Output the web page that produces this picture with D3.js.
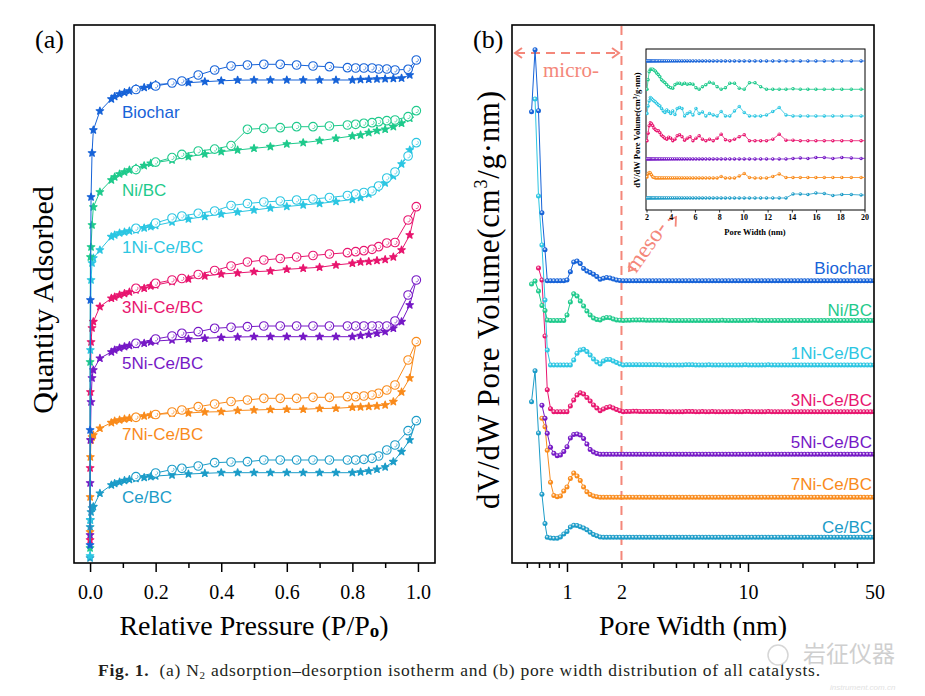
<!DOCTYPE html>
<html><head><meta charset="utf-8">
<script src="https://cdn.jsdelivr.net/npm/d3@7"></script>
<style>body{margin:0;background:#fff;} svg{display:block;}</style>
</head><body>
<svg id="c" width="925" height="696"></svg>
<script>
// ---------------- DATA ----------------
const seriesNames = ["Biochar","Ni/BC","1Ni-Ce/BC","3Ni-Ce/BC","5Ni-Ce/BC","7Ni-Ce/BC","Ce/BC"];
const seriesColors = ["#1763d8","#1fca8c","#2cc6e2","#e8166f","#7619c6","#f98b1c","#1c9cc8"];

// (a) N2 isotherms: relative pressure points
const adsP = [0,0.0002,0.001,0.003,0.006,0.01,0.03,0.065,0.075,0.09,0.105,0.12,0.14,0.165,0.185,0.2,0.25,0.3,0.35,0.4,0.45,0.5,0.55,0.6,0.65,0.7,0.75,0.8,0.825,0.85,0.875,0.9,0.925,0.95,0.975];
const desP = [0.995,0.97,0.93,0.905,0.88,0.86,0.835,0.81,0.785,0.73,0.68,0.63,0.58,0.53,0.48,0.43,0.38,0.33,0.28,0.25,0.2,0.14];

// quantity adsorbed (arbitrary stacked units)
const adsBiochar = [18,133,263,366,410,433,452,464,466.5,469,470.5,472,474.5,475.5,477,478.5,479.5,480.3,481.3,482.2,482.8,483,483,483,483,483,483,483,483.4,483.7,484,484.2,484.5,484.8,488];
const adsNi = [15,201,306,316,338,356,371,383,386,389,391,393,395,397.3,399.7,400.5,403,406.3,409,411.3,413,414.7,416.3,419,420.3,422.3,424.7,427,428,430.3,432.3,433.7,436.3,439.7,444.7];
const ads1Ni = [7,43,213,283,300,305,313,326.3,328,330,331,332,333,335,336.3,337.5,341,344,346.5,349,351,353,355,356.5,358,359.5,361.5,363.5,365.5,369,375,380,387,399,413];
const ads3Ni = [23,95,171,221,235,241.3,256.3,264.7,266,268,269.5,271,273,274.7,277,278,281.3,284,287,289,290,291.3,292,293.7,294.7,295.7,298,299.7,301,301.5,302.5,303.5,306,313,328];
const ads5Ni = [28,80,123,161,185,193,204.7,211,213,215,216.3,217.5,218.5,219.7,221,222,223,224,224.7,225.5,226,226.3,226.3,226.3,226.3,226.3,226.3,226.3,227.5,228.5,229.7,231.3,234.7,241.3,258];
const ads7Ni = [31,66,106,123,126,128,134.7,140.3,142,143,144,144.7,146,147,148,148.5,149.7,150,151,151.3,152.5,153,153.5,153.7,153.7,154.5,154.7,155.7,156,156.5,157,158,161.3,171,185];
const adsCe = [5,36,43,51,55,56.3,69.7,78,79.5,81,82.5,83.5,84.5,85.5,86.3,87,88,89,89.7,90.3,90.3,90.3,90.3,90.3,90.3,90.3,90.3,90.3,91,92,93.7,96,101.3,111.3,123];

const desBiochar = [503,493.7,493,494,494,495,495,495,495.3,496.3,497,498,498.7,498.7,498,497,493,488,482,480,477,473.5];
const desNi = [452.3,446.3,443,442.3,441.3,440.3,439.7,438.7,438,437,436.3,436.3,435.3,434.7,433.7,417.4,413.9,412,408.6,405.4,400.9,393.4];
const des1Ni = [420.3,407,391,385,377,372,370.5,369,367.5,365.5,364,363,362,361,359.5,357.5,352,349.7,347,345,340,334.7];
const des3Ni = [356.3,343,320.5,320,316.3,313.7,312.3,311.3,310.3,309,307.5,306,304.5,303,301,297,292.5,288.5,284.5,283,279.7,274.7];
const des5Ni = [283,268,242,237,237,237,237,237,237,237,237,237,237,237,236.3,235.7,234.7,231.3,229.7,227,224,219.7];
const des7Ni = [221.3,203,178,173,169.7,168,167,166.3,166.3,165.7,165.7,164.7,164.7,164.7,163,161.5,159,156.3,153,151,148.5,145.7];
const desCe = [142.3,132.3,118,113,107,104.7,103.7,103,103,103,103,103,103,103,101.3,101,100.3,97,94.7,93.5,90,86.3];

// (b) pore width distribution: pore widths (nm)
const poreWidths = [0.637,0.666,0.696,0.727,0.756,
 0.778,0.811,0.846,0.883,0.920,0.960,1.000,1.044,1.089,1.136,
 1.184,1.235,1.288,1.343,1.401,1.461,1.524,1.589,1.657,1.728,
 1.802,1.879,1.959,2.044,2.131,2.222,2.318,2.417,2.521,2.629,
 2.741,2.859,2.982,3.109,3.243,3.382,3.527,3.678,3.836,4.001,
 4.171,4.351,4.537,4.732,4.934,5.147,5.367,5.597,5.837,6.087,
 6.348,6.620,6.904,7.200,7.509,7.831,8.166,8.517,8.882,9.263,
 9.660,10.07,10.50,10.96,11.43,11.91,12.43,12.96,13.52,14.10,
 14.70,15.33,15.99,16.68,17.39,18.13,18.91,19.72,20.57,21.45,
 22.37,23.33,24.33,25.37,26.46,27.60,28.78,30.01,31.29,32.63,
 34.04,35.50,37.02,38.61,40.26,41.99,43.79,45.67,47.63,49.67];

// dV/dW (arbitrary units)
const psdBiochar = [169,231,170,68,31,
 0,0,0,0,0,0,0.7,9,18.7,19.7,
 17.2,12.2,9.7,8.2,6.5,4.2,1.4,2.4,3.3,2.7,
 1.7,0.7,0.3,0,0,0,0,0,0,0,
 0,0,0,0,0,0,0,0,0,0,
 0,0,0,0,0,0,0,0,0,0,
 0,0,0,0,0,0,0,0,0,0,
 0,0,0,0,0,0,0,0,0,0,
 0,0,0,0,0,0,0,0,0,0,
 0,0,0,0,0,0,0,0,0,0,
 0,0,0,0,0,0,0,0,0,0];
const psdNi = [36.5,39.5,29.5,15,10,
 0.5,0,0,0,0,0,5.5,18.5,26.7,24.5,
 19.5,14.5,9.5,5.5,2.5,1,0.5,2.2,3.1,2.7,
 1.5,0.6,0.3,0,0.19,0.35,0.4,0.4,0.4,0.38,
 0.36,0.32,0.29,0.25,0.19,0.16,0.13,0.09,0.05,0.03,
 0.02,0.09,0.12,0.12,0.1,0.12,0.1,0.11,0.1,0.03,
 0,0.05,0.09,0.14,0.12,0.05,0,0.03,0.12,0.12,
 0.02,0,0.13,0.13,0.05,0,0,0,0,0.01,
 0,0,0,0,0,0,0,0,0,0,
 0,0,0,0,0,0,0,0,0,0,
 0,0,0,0,0,0,0,0,0,0];
const psd1Ni = [null,266,169,120,65,
 15,0,0,0,0,0,0,0,5,11.8,
 15,15.7,13.5,10,6,3,1,4,5.5,5.5,
 4,2.5,1,0.05,0.2,0.3,0.37,0.35,0.32,0.3,
 0.28,0.25,0.22,0.2,0.15,0.1,0.07,0.12,0.09,0.05,
 0.1,0.03,0.15,0.17,0.15,0,0.05,0.08,0.02,0.15,
 0.05,0.08,0,0.05,0.02,0,0.09,0,0,0.1,
 0.19,0.07,0,0,0,0.02,0.09,0.17,0.02,0,
 0,0,0,0,0,0,0,0,0,0,
 0,0,0,0,0,0,0,0,0,0,
 0,0,0,0,0,0,0,0,0,0];
const psd3Ni = [null,null,143.7,131.7,75.7,
 22,3,0,0,0,0,0,5.7,11.7,16.7,
 18.9,17.7,14.3,10.7,6.7,3.7,1,2.7,4.2,4.9,
 3.7,2.2,1,0,0.15,0.3,0.36,0.34,0.3,0.25,
 0.22,0.2,0.2,0.16,0.11,0.08,0.05,0.03,0.07,0.05,
 0,0.03,0.1,0.12,0.08,0.01,0.05,0.08,0,0.05,
 0.1,0.03,0,0.03,0,0.05,0.13,0.02,0,0.03,
 0.08,0.12,0,0,0,0,0.03,0.13,0.01,0.01,
 0,0,0,0,0,0,0,0,0,0,
 0,0,0,0,0,0,0,0,0,0,
 0,0,0,0,0,0,0,0,0,0];
const psd5Ni = [null,null,null,49,36,
 21,7,1,-1.4,-0.7,2.8,7.6,16.3,19.8,20.3,
 19.3,15.8,10.3,4.8,2.3,0.8,0,0,0,0,
 0,0,0,0,0,0,0,0,0,0,
 0,0,0,0,0,0,0,0,0,0,
 0,0,0,0,0,0,0,0,0,0,
 0,0,0,0,0,0,0,0,0,0,
 0,0,0,0,0,0,0,0,0,0.01,
 0.02,0.01,0.03,0.03,0.01,0.03,0.02,0.01,0.02,0.02,
 0.02,0.02,0.02,0.02,0.02,0.02,0.02,0.02,0.02,0.02,
 0.02,0.02,0.02,0.02,0.02,0.02,0.02,0.02,0.02,0.02];
const psd7Ni = [null,null,null,79,70.6,
 47,15,1.8,0.6,1.3,6.3,10.3,18.8,24.3,21.3,
 16.8,10.3,5.5,2.8,1.3,0.5,0,0,0,0,
 0,0,0,0.02,0.08,0.11,0.1,0.06,0.02,0.01,
 0,0,0,0,0,0,0,0,0,0,
 0,0,0,0,0,0,0,0,0,0,
 0,0,0,0,0,0,0.03,0,0,0,
 0.04,0.09,0.01,0,0,0,0.03,0.08,0.01,0.01,
 0.01,0.01,0.01,0.01,0.01,0.01,0.01,0.01,0.01,0.01,
 0.01,0.01,0.01,0.01,0.01,0.01,0.01,0.01,0.01,0.01,
 0.01,0.01,0.01,0.01,0.01,0.01,0.01,0.01,0.01,0.01];
const psdCe = [135.6,166.6,104.3,43,13.7,
 0,-0.7,-1,-1,0.3,3.3,5.8,10.3,12,11.8,
 10.6,9.3,7.5,5,2.8,1.5,0.3,0,0,0,
 0,0,0,0,0,0,0,0,0,0,
 0,0,0,0,0,0,0,0,0,0,
 0,0,0,0,0,0,0,0,0,0,
 0,0,0,0,0,0,0,0,0,0,
 0,0,0,0,0,0,0,0,0,0.08,
 0.08,0.07,0.1,0.09,0.05,0.07,0.07,0.06,0.06,0.06,
 0.06,0.06,0.06,0.06,0.06,0.06,0.06,0.06,0.06,0.06,
 0.06,0.06,0.06,0.06,0.06,0.06,0.06,0.06,0.06,0.06];

const xTicksA = [0,0.2,0.4,0.6,0.8,1.0];
const xMinorA = [0.1,0.3,0.5,0.7,0.9];
const xLabelsB = [1,2,10,50];
const xMajorB = [1,10];
const xMinorB = [0.6,0.7,0.8,0.9,2,3,4,5,6,7,8,9,20,30,40];
const xTicksInset = [2,4,6,8,10,12,14,16,18,20];

// layout (not data)
const offsetsB = [282.3,242.5,198,151.3,108.7,65.7,25.7];
const offsetsInset = [2.98,2.414,1.88,1.386,1.02,0.64,0.24];
const labelYA = [118,196,253,313,369,439.5,503];
const labelYB = [274,316,359,406,448,489.5,533];

// ---------------- DRAW ----------------
const svg = d3.select("#c");
const serif = "'Liberation Serif','Times New Roman',serif";
const sans = "'Liberation Sans',Arial,sans-serif";
const salmon = "#f4877a";

const isoAds = [adsBiochar,adsNi,ads1Ni,ads3Ni,ads5Ni,ads7Ni,adsCe];
const isoDes = [desBiochar,desNi,des1Ni,des3Ni,des5Ni,des7Ni,desCe];
const psd = [psdBiochar,psdNi,psd1Ni,psd3Ni,psd5Ni,psd7Ni,psdCe];

const defs = svg.append("defs");
seriesColors.forEach((c,i)=>{
  const g = defs.append("radialGradient").attr("id","grad"+i).attr("cx","0.42").attr("cy","0.38").attr("r","0.6");
  g.append("stop").attr("offset","0").attr("stop-color","#ffffff");
  g.append("stop").attr("offset","0.5").attr("stop-color",c);
  g.append("stop").attr("offset","1").attr("stop-color",c);
});
defs.append("clipPath").attr("id","clipB").append("rect").attr("x",512).attr("y",25).attr("width",362).attr("height",538);
defs.append("clipPath").attr("id","clipI").append("rect").attr("x",646).attr("y",49).attr("width",219).attr("height",161);

// ===== Panel (a) =====
const xA = d3.scaleLinear().domain([-0.049,1.052]).range([74,435]);
const yA = d3.scaleLinear().domain([0,538]).range([563,25]);
const gA = svg.append("g");

function styleAxis(g, fs){
  g.select(".domain").remove();
  g.selectAll("line").attr("stroke","#000").attr("stroke-width",1.5);
  g.selectAll("text").attr("font-family",serif).attr("font-size",fs).attr("fill","#000");
}
gA.append("g").attr("transform","translate(0,563)")
  .call(d3.axisBottom(xA).tickValues(xTicksA).tickFormat(d3.format(".1f")).tickSize(9).tickPadding(13))
  .call(g=>styleAxis(g,20));
gA.append("g").attr("transform","translate(0,563)")
  .call(d3.axisBottom(xA).tickValues(xMinorA).tickFormat("").tickSize(5))
  .call(g=>styleAxis(g,20));

const starSym = d3.symbol(d3.symbolStar, 17);
const lineA = d3.line().x(d=>xA(d.p)).y(d=>yA(d.v));
for (let i=seriesNames.length-1;i>=0;i--){
  const c = seriesColors[i];
  const ads = adsP.map((p,j)=>({p, v: isoAds[i][j]}));
  const des = desP.map((p,j)=>({p, v: isoDes[i][j]}));
  const g = gA.append("g");
  g.append("path").datum(ads.concat(des)).attr("d",lineA).attr("fill","none").attr("stroke",c).attr("stroke-width",1);
  g.selectAll("path.st").data(ads).join("path").attr("class","st")
    .attr("d",starSym).attr("transform",d=>`translate(${xA(d.p)},${yA(d.v)})`)
    .attr("fill",c).attr("stroke",c).attr("stroke-width",1.3).attr("stroke-linejoin","round");
  const cg = g.selectAll("g.oc").data(des).join("g").attr("class","oc")
    .attr("transform",d=>`translate(${xA(d.p)},${yA(d.v)})`);
  cg.append("circle").attr("r",4.3).attr("fill","#fff").attr("stroke",c).attr("stroke-width",1.1);
  cg.append("path").attr("d","M1.3,-1.5 A1.9,1.9 0 0 1 -0.5,1.8").attr("fill","none").attr("stroke",c).attr("stroke-width",0.7);
}
seriesNames.forEach((n,i)=>{
  gA.append("text").attr("x",122).attr("y",labelYA[i]).text(n)
    .attr("font-family",sans).attr("font-size",17).attr("fill",seriesColors[i]);
});
gA.append("rect").attr("x",74).attr("y",25).attr("width",361).attr("height",538)
  .attr("fill","none").attr("stroke","#000").attr("stroke-width",1.6);
svg.append("text").attr("x",35).attr("y",48).text("(a)").attr("font-family",serif).attr("font-size",26);
svg.append("text").attr("transform","translate(53,300) rotate(-90)").attr("text-anchor","middle")
  .attr("font-family",serif).attr("font-size",30).text("Quantity Adsorbed");
const tA = svg.append("text").attr("x",254).attr("y",635).attr("text-anchor","middle")
  .attr("font-family",serif).attr("font-size",28);
tA.append("tspan").text("Relative Pressure (P/P");
tA.append("tspan").attr("font-size",19).attr("font-weight","bold").attr("dy",2).text("o");
tA.append("tspan").attr("dy",-2).text(")");

// ===== Panel (b) =====
const xB = d3.scaleLog().domain([0.5,50]).range([512.5,874.5]);
const yB = d3.scaleLinear().domain([0,538]).range([563,25]);
const gB = svg.append("g");
gB.append("g").attr("transform","translate(0,563)")
  .call(d3.axisBottom(xB).tickValues(xMajorB).tickFormat("").tickSize(9)).call(g=>styleAxis(g,20));
gB.append("g").attr("transform","translate(0,563)")
  .call(d3.axisBottom(xB).tickValues(xMinorB).tickFormat("").tickSize(5)).call(g=>styleAxis(g,20));
gB.append("g").attr("transform","translate(0,563)")
  .call(d3.axisBottom(xB).tickValues(xLabelsB).tickFormat(d3.format("d")).tickSize(0).tickPadding(22)).call(g=>styleAxis(g,20));

// dashed guides
gB.append("line").attr("x1",xB(2)).attr("x2",xB(2)).attr("y1",26).attr("y2",562)
  .attr("stroke",salmon).attr("stroke-width",2).attr("stroke-dasharray","9,6");
gB.append("line").attr("x1",516).attr("x2",618).attr("y1",53).attr("y2",53)
  .attr("stroke",salmon).attr("stroke-width",2).attr("stroke-dasharray","9,6");
gB.append("path").attr("d","M522,48 L515,53 L522,58 M612,48 L619,53 L612,58")
  .attr("fill","none").attr("stroke",salmon).attr("stroke-width",2);
gB.append("text").attr("x",543).attr("y",77).text("micro-").attr("font-family",serif).attr("font-size",21).attr("fill",salmon);

const dataG = gB.append("g").attr("clip-path","url(#clipB)");
const lineB = d3.line().defined(d=>d.v!=null).x(d=>xB(d.w)).y(d=>yB(d.v));
for (let i=seriesNames.length-1;i>=0;i--){
  const c = seriesColors[i];
  const pts = poreWidths.map((w,j)=>({w, v: psd[i][j]==null?null:psd[i][j]+offsetsB[i]}));
  const g = dataG.append("g");
  g.append("path").datum(pts).attr("d",lineB).attr("fill","none").attr("stroke",c).attr("stroke-width",1);
  g.selectAll("circle").data(pts.filter(d=>d.v!=null)).join("circle")
    .attr("cx",d=>xB(d.w)).attr("cy",d=>yB(d.v)).attr("r",2.5).attr("fill",`url(#grad${i})`);
}
gB.append("text").attr("transform","translate(636,274) rotate(-55)").text("meso-")
  .attr("font-family",serif).attr("font-size",23).attr("fill",salmon);
gB.append("path").attr("d","M667.8,220.4 L676,217 L675.6,226.6 M636.2,268.6 L629,271 L629.4,262.4")
  .attr("fill","none").attr("stroke",salmon).attr("stroke-width",1.8);
seriesNames.forEach((n,i)=>{
  gB.append("text").attr("x",872).attr("y",labelYB[i]).attr("text-anchor","end").text(n)
    .attr("font-family",sans).attr("font-size",17).attr("fill",seriesColors[i]);
});

// inset
const xI = d3.scaleLinear().domain([2,20]).range([646.5,864.5]);
const yI = d3.scaleLinear().domain([0,3.22]).range([210,49]);
const gI = svg.append("g");
gI.append("rect").attr("x",646).attr("y",49).attr("width",219).attr("height",161).attr("fill","#fff")
  .attr("stroke","#000").attr("stroke-width",1);
gI.append("g").attr("transform","translate(0,210)")
  .call(d3.axisBottom(xI).tickValues(xTicksInset).tickFormat(d3.format("d")).tickSize(2.5).tickPadding(2))
  .call(g=>{ g.select(".domain").remove(); g.selectAll("line").attr("stroke","#000").attr("stroke-width",0.8);
    g.selectAll("text").attr("font-family",serif).attr("font-size",8).attr("font-weight","bold").attr("fill","#000"); });
const iData = gI.append("g").attr("clip-path","url(#clipI)");
const lineI = d3.line().x(d=>xI(d.w)).y(d=>yI(d.v));
seriesNames.forEach((n,i)=>{
  const c = seriesColors[i];
  const pts = poreWidths.map((w,j)=>({w, v: psd[i][j]}))
    .filter(d=>d.w>=2 && d.w<=20.6 && d.v!=null).map(d=>({w:d.w, v:d.v+offsetsInset[i]}));
  iData.append("path").datum(pts).attr("d",lineI).attr("fill","none").attr("stroke",c).attr("stroke-width",0.8);
  iData.selectAll(null).data(pts.filter(d=>d.w<=20)).join("circle")
    .attr("cx",d=>xI(d.w)).attr("cy",d=>yI(d.v)).attr("r",1.7).attr("fill",`url(#grad${i})`);
});
gI.append("text").attr("x",755).attr("y",235).attr("text-anchor","middle").text("Pore Width (nm)")
  .attr("font-family",serif).attr("font-size",8.5).attr("font-weight","bold");
const tI = gI.append("text").attr("transform","translate(640,130) rotate(-90)").attr("text-anchor","middle")
  .attr("font-family",serif).attr("font-size",8.5).attr("font-weight","bold");
tI.append("tspan").text("dV/dW Pore Volume(cm");
tI.append("tspan").attr("font-size",5.5).attr("dy",-3).text("3");
tI.append("tspan").attr("dy",3).text("/g·nm)");

gB.append("rect").attr("x",512).attr("y",25).attr("width",362).attr("height",538)
  .attr("fill","none").attr("stroke","#000").attr("stroke-width",1.6);
svg.append("text").attr("x",473).attr("y",48).text("(b)").attr("font-family",serif).attr("font-size",26);
const tB = svg.append("text").attr("transform","translate(499,300) rotate(-90)").attr("text-anchor","middle")
  .attr("font-family",serif).attr("font-size",31).attr("textLength",418).attr("lengthAdjust","spacing");
tB.append("tspan").text("dV/dW Pore Volume(cm");
tB.append("tspan").attr("font-size",18).attr("dy",-12).text("3");
tB.append("tspan").attr("dy",12).text("/g·nm)");
svg.append("text").attr("x",693).attr("y",635).attr("text-anchor","middle").text("Pore Width (nm)")
  .attr("font-family",serif).attr("font-size",28);

// caption
const cap = svg.append("text").attr("x",98).attr("y",676).attr("font-family",serif).attr("font-size",17.5)
  .attr("fill","#231f20").attr("textLength",722).attr("lengthAdjust","spacing");
cap.append("tspan").attr("font-weight","bold").text("Fig. 1.");
cap.append("tspan").text("\u00a0\u00a0(a) N");
cap.append("tspan").attr("font-size",11).attr("dy",3).text("2");
cap.append("tspan").attr("dy",-3).text(" adsorption\u2013desorption isotherm and (b) pore width distribution of all catalysts.");

// watermark
svg.append("circle").attr("cx",778).attr("cy",655).attr("r",10).attr("fill","none").attr("stroke","#d6d6d6").attr("stroke-width",1.5);
svg.append("text").attr("x",803).attr("y",662).text("岩征仪器")
  .attr("font-family","'Noto Sans CJK SC',sans-serif").attr("font-size",23).attr("fill","#cfcfcf");
svg.append("text").attr("x",830).attr("y",690).text("instrument.com.cn")
  .attr("font-family",sans).attr("font-size",8).attr("font-style","italic").attr("fill","#e2e2e2");
</script>
</body></html>
